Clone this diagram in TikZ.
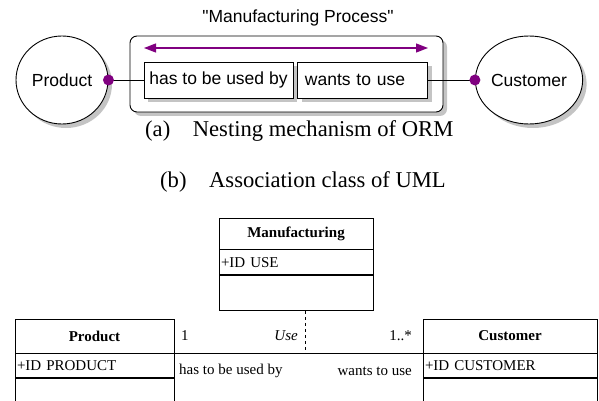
\documentclass[tikz,border=0pt]{standalone}
\usepackage{fontspec}
\setmainfont{Liberation Serif}
\newfontfamily\ormfont{Liberation Sans}
\usepackage{tikz}
\usetikzlibrary{shapes.geometric, arrows.meta, positioning, calc, shadows}
\definecolor{ormpurple}{HTML}{800080}
\definecolor{shadowgray}{HTML}{C4C4C4}
\newcommand{\ormsize}{\ormfont\fontsize{17.5pt}{21pt}\selectfont}
\newcommand{\umlsize}{\fontsize{15pt}{18pt}\selectfont}

\begin{document}
\begin{tikzpicture}[x=1pt, y=-1pt,
  ormshadow/.style={general shadow={fill=shadowgray, shadow xshift=4pt, shadow yshift=-4pt}},
  entity/.style={ellipse, draw, fill=white, line width=0.9pt, minimum width=92pt, minimum height=88pt, inner sep=0pt, font=\ormsize, ormshadow},
  objframe/.style={rectangle, rounded corners=7pt, draw, fill=white, line width=0.9pt, minimum width=313pt, minimum height=76pt, ormshadow},
  role/.style={rectangle, draw, fill=white, line width=0.9pt, minimum height=36pt, inner ysep=0pt, align=left, font=\ormsize, ormshadow},
  roledot/.style={circle, fill=ormpurple, minimum size=11pt, inner sep=0pt},
  ormline/.style={line width=0.9pt},
  umlbox/.style={rectangle, draw, line width=0.7pt, inner xsep=2pt, inner ysep=0pt, align=left, font=\umlsize},
  umlhead/.style={umlbox, align=center, font=\umlsize\bfseries},
  umllabel/.style={inner sep=0pt, font=\umlsize},
  caption/.style={anchor=base west, inner sep=0pt, font=\fontsize{22.6pt}{27pt}\selectfont}
]
  \useasboundingbox (0,0) rectangle (599,401);

  % (a) ORM nesting
  \node[font=\ormsize] (title) at (298,18) {"Manufacturing Process"};
  \node[objframe] (objframe) at (286.5,74) {};
  \node[role, inner xsep=5pt, minimum width=149pt] (rolea) at (218.5,80) {has to be used by};
  \node[role, inner xsep=7pt, text width=116pt, right=4pt of rolea] (roleb) {wants to use};
  \coordinate (arrl) at (144,48);
  \coordinate (arrr) at (428,48);
  \draw[ormpurple, line width=1.3pt, {Triangle[length=12pt, width=9pt]}-{Triangle[length=12pt, width=9pt]}] (arrl) -- (arrr);

  \node[entity] (product) at (62,80) {Product};
  \node[entity] (customer) at (529,80) {Customer};
  \draw[ormline] (product.east) -- (rolea);
  \draw[ormline] (roleb) -- (customer.west);
  \node[roledot] (pdot) at (product.east) {};
  \node[roledot] (cdot) at (customer.west) {};

  \node[caption] (capa) at (145,136) {(a)\quad Nesting mechanism of ORM};
  \node[caption] (capb) at (160,187) {(b)\quad Association class of UML};

  % (b) UML association class
  \node[umlhead, text width=150pt, minimum height=31pt] (mfhead) at (296,233.5) {Manufacturing};
  \node[umlbox, text width=150pt, minimum height=25pt, below=0pt of mfhead] (mfattr) {+ID USE};
  \node[umlbox, text width=150pt, minimum height=35pt, below=0pt of mfattr] (mfops) {};

  \node[umlhead, text width=155pt, minimum height=34pt] (prodhead) at (94.5,336) {Product};
  \node[umlbox, text width=155pt, minimum height=24pt, below=0pt of prodhead] (prodattr) {+ID PRODUCT};
  \node[umlbox, text width=155pt, minimum height=33pt, below=0pt of prodattr] (prodops) {};

  \node[umlhead, text width=170pt, minimum height=34pt] (custhead) at (510,336) {Customer};
  \node[umlbox, text width=170pt, minimum height=24pt, below=0pt of custhead] (custattr) {+ID CUSTOMER};
  \node[umlbox, text width=170pt, minimum height=33pt, below=0pt of custattr] (custops) {};

  \draw[line width=0.7pt] (prodhead.south east) -- (custhead.south west);
  \coordinate (usept) at (305,353);
  \draw[dashed, line width=0.7pt] (mfops.south -| usept) -- (usept);

  \node[umllabel, anchor=west] (multa) at (181,336) {1};
  \node[umllabel, anchor=east] (assocname) at (298,336) {\textit{Use}};
  \node[umllabel, anchor=east] (multb) at (412,336) {1..*};
  \node[umllabel, anchor=west] (rnamea) at (179,371) {has to be used by};
  \node[umllabel, anchor=east] (rnameb) at (412,371) {wants to use};
\end{tikzpicture}
\end{document}
